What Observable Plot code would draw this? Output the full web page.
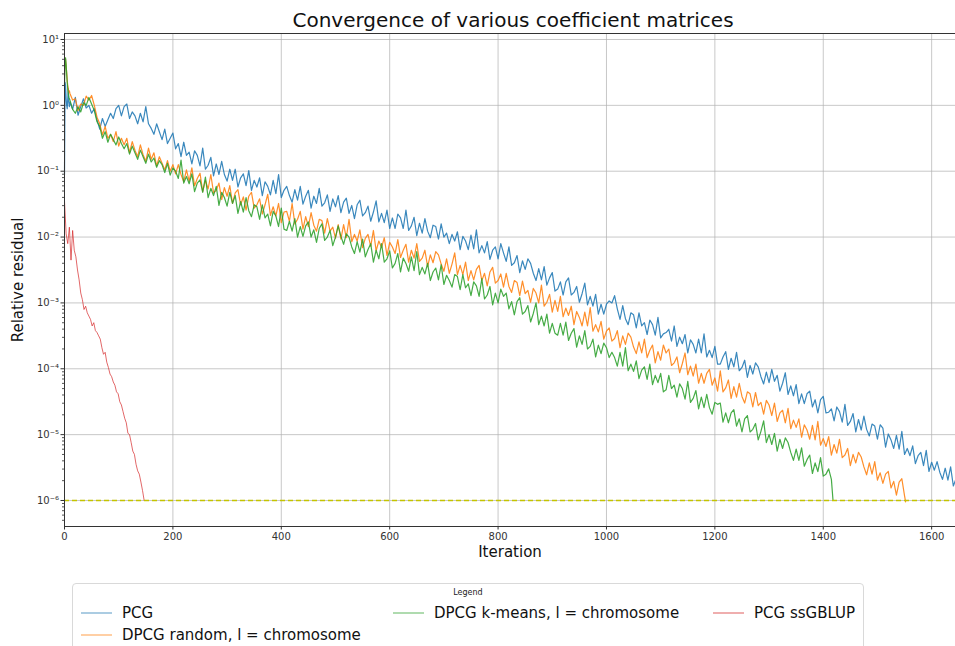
<!DOCTYPE html>
<html>
<head>
<meta charset="utf-8">
<script src="https://cdn.jsdelivr.net/npm/d3@7"></script>
<script src="https://cdn.jsdelivr.net/npm/@observablehq/plot@0.6"></script>
<style>
  body { margin: 0; background: #fff; font-family: "DejaVu Sans", sans-serif; }
  #wrap { position: relative; width: 955px; height: 646px; overflow: hidden; background: #fff; }
  #chart { position: absolute; left: 0; top: 0; }
  #title { position: absolute; top: 8px; left: 513px; transform: translateX(-50%); white-space: nowrap;
           font-size: 20px; line-height: 24px; color: #111; }
  #legend { position: absolute; left: 72px; top: 583px; width: 790px; height: 100px;
            border: 1px solid #d9d9d9; border-radius: 4px; background: #fff; }
  #legend .ttl { position: absolute; top: 4px; left: 0; width: 100%; text-align: center; font-size: 8px; color: #222; }
  #legend .item { position: absolute; height: 18px; display: flex; align-items: center; white-space: nowrap;
                  font-size: 15px; color: #111; }
  #legend svg { margin-right: 10px; }
</style>
</head>
<body>
<div id="wrap">
  <div id="chart"></div>
  <div id="title">Convergence of various coefficient matrices</div>
  <div id="legend"><div class="ttl">Legend</div></div>
</div>
<script>
// Relative residual per iteration, stored as log10(residual).
// Iterations 0-9 one by one, then one value every 5 iterations from iteration 10.
const pcgHead = [-1.05, 0.35, 0.3, 0.1, 0.0, -0.05, 0.1, 0.25, 0.05, -0.02];
const pcgStep5 = [
  0.05,-0.06,0.12,-0.15,-0.02,0.1,-0.04,0.0,-0.12,-0.05,-0.22,-0.36,-0.2,-0.32,-0.22,-0.12,-0.2,-0.05,0.0,-0.16,
  -0.02,0.02,-0.2,-0.1,-0.16,-0.28,-0.12,-0.25,-0.02,-0.28,-0.35,-0.44,-0.28,-0.4,-0.52,-0.36,-0.58,-0.5,-0.42,-0.66,
  -0.58,-0.78,-0.56,-0.76,-0.71,-0.89,-0.69,-0.76,-0.92,-0.65,-0.97,-0.91,-0.79,-1.07,-0.89,-1.05,-0.85,-1.05,-1.15,-0.97,
  -1.14,-0.97,-1.24,-1.10,-1.04,-1.22,-0.99,-1.29,-1.14,-1.24,-1.10,-1.37,-1.16,-1.23,-1.36,-1.14,-1.34,-1.05,-1.40,-1.29,
  -1.23,-1.37,-1.47,-1.28,-1.44,-1.23,-1.50,-1.38,-1.29,-1.56,-1.38,-1.49,-1.26,-1.53,-1.48,-1.36,-1.61,-1.42,-1.54,-1.37,
  -1.63,-1.47,-1.41,-1.64,-1.52,-1.72,-1.51,-1.44,-1.68,-1.63,-1.53,-1.76,-1.62,-1.45,-1.77,-1.64,-1.78,-1.59,-1.87,-1.71,
  -1.87,-1.65,-1.71,-1.87,-1.59,-1.90,-1.83,-1.70,-1.98,-1.79,-1.94,-1.72,-1.91,-2.01,-1.82,-1.84,-2.03,-1.80,-2.00,-1.94,
  -2.10,-1.96,-2.06,-1.92,-2.19,-1.99,-2.06,-2.19,-1.97,-2.18,-1.89,-2.24,-2.13,-2.24,-2.07,-2.34,-2.20,-2.15,-2.33,-2.10,
  -2.24,-2.37,-2.15,-2.43,-2.39,-2.28,-2.54,-2.36,-2.49,-2.33,-2.40,-2.55,-2.66,-2.48,-2.65,-2.45,-2.73,-2.62,-2.54,-2.82,
  -2.79,-2.68,-2.88,-2.68,-2.62,-2.88,-2.84,-2.75,-2.99,-2.86,-2.70,-3.03,-2.90,-3.05,-2.87,-3.17,-3.02,-3.17,-3.02,-2.97,
  -3.00,-2.89,-3.09,-3.25,-3.04,-3.24,-3.33,-3.15,-3.18,-3.38,-3.15,-3.35,-3.30,-3.48,-3.26,-3.33,-3.49,-3.22,-3.53,-3.47,
  -3.45,-3.40,-3.58,-3.35,-3.66,-3.52,-3.62,-3.48,-3.76,-3.56,-3.63,-3.76,-3.55,-3.76,-3.47,-3.82,-3.72,-3.83,-3.66,-3.93,
  -3.93,-3.82,-3.74,-4.01,-3.84,-3.97,-3.75,-4.03,-3.98,-3.87,-4.13,-3.95,-4.08,-3.91,-3.97,-4.12,-4.23,-4.05,-4.21,-4.01,
  -4.19,-4.10,-4.34,-4.22,-4.06,-4.39,-4.26,-4.41,-4.24,-4.53,-4.38,-4.53,-4.38,-4.34,-4.58,-4.47,-4.67,-4.47,-4.42,-4.67,
  -4.66,-4.61,-4.79,-4.58,-4.65,-4.81,-4.54,-4.86,-4.80,-4.68,-4.96,-4.77,-4.93,-4.72,-4.92,-5.02,-4.84,-4.87,-5.07,-4.85,
  -4.90,-5.19,-4.99,-5.08,-5.21,-5.01,-5.22,-4.95,-5.30,-5.21,-5.32,-5.17,-5.44,-5.32,-5.27,-5.47,-5.24,-5.56,-5.42,-5.54,
  -5.41,-5.57,-5.68,-5.51,-5.69,-5.49,-5.78,-5.67,-5.60
];
const pcgTail = [];

const randomHead = [0.45, 0.72, 0.7, 0.6, 0.5, 0.38, 0.3, 0.25, 0.2, 0.22];
const randomStep5 = [
  0.18,0.08,0.1,-0.08,0.02,0.0,0.14,0.08,0.15,0.0,-0.18,-0.28,-0.45,-0.32,-0.5,-0.44,-0.55,-0.4,-0.62,-0.5,
  -0.6,-0.5,-0.72,-0.55,-0.68,-0.78,-0.6,-0.75,-0.85,-0.65,-0.82,-0.72,-0.92,-0.78,-0.88,-0.98,-0.84,-1.0,-0.9,-1.04,
  -0.90,-1.05,-1.16,-0.98,-1.15,-0.95,-1.22,-1.11,-1.03,-1.31,-1.14,-1.27,-1.05,-1.33,-1.29,-1.18,-1.43,-1.25,-1.38,-1.22,
  -1.49,-1.33,-1.28,-1.51,-1.39,-1.59,-1.38,-1.32,-1.56,-1.51,-1.42,-1.65,-1.51,-1.35,-1.67,-1.54,-1.68,-1.49,-1.78,-1.62,
  -1.61,-1.76,-1.49,-1.80,-1.73,-1.61,-1.88,-1.69,-1.84,-1.63,-1.82,-1.91,-1.73,-1.75,-1.94,-1.72,-1.91,-1.85,-2.02,-1.81,
  -2.03,-1.81,-2.01,-1.73,-2.07,-1.96,-2.06,-1.89,-2.16,-2.02,-1.96,-2.14,-1.90,-2.21,-2.06,-2.16,-2.01,-2.28,-2.08,-2.15,
  -2.25,-2.04,-2.31,-2.20,-2.11,-2.38,-2.20,-2.32,-2.10,-2.37,-2.32,-2.20,-2.45,-2.27,-2.39,-2.22,-2.27,-2.41,-2.52,-2.33,
  -2.55,-2.41,-2.24,-2.57,-2.43,-2.57,-2.38,-2.66,-2.51,-2.65,-2.49,-2.43,-2.66,-2.55,-2.74,-2.53,-2.46,-2.70,-2.66,-2.56,
  -2.76,-2.55,-2.75,-2.84,-2.66,-2.69,-2.89,-2.67,-2.86,-2.81,-2.99,-2.78,-2.85,-3.00,-2.73,-3.05,-2.99,-2.87,-3.14,-2.96,
  -3.13,-2.90,-3.21,-3.08,-3.19,-3.05,-3.33,-3.13,-3.22,-3.35,-3.14,-3.35,-3.07,-3.43,-3.33,-3.44,-3.28,-3.55,-3.43,-3.38,
  -3.58,-3.54,-3.42,-3.68,-3.50,-3.63,-3.46,-3.52,-3.67,-3.77,-3.59,-3.76,-3.55,-3.83,-3.72,-3.64,-3.91,-3.74,-3.87,-3.64,
  -3.76,-3.70,-3.95,-3.91,-3.82,-4.06,-3.92,-3.76,-4.09,-3.96,-4.11,-3.93,-4.22,-4.07,-4.22,-4.07,-4.01,-4.25,-4.14,-4.34,
  -4.03,-4.35,-4.29,-4.17,-4.45,-4.27,-4.43,-4.22,-4.42,-4.52,-4.35,-4.38,-4.58,-4.36,-4.56,-4.51,-4.69,-4.48,-4.55,-4.71,
  -4.52,-4.80,-4.67,-4.63,-4.82,-4.60,-4.91,-4.78,-4.89,-4.76,-5.04,-4.85,-4.93,-5.07,-4.86,-5.08,-4.80,-5.16,-5.06,-5.18,
  -5.03,-5.31,-5.15,-5.28,-5.07,-5.35,-5.31,-5.21,-5.47,-5.30,-5.43,-5.27,-5.34,-5.49,-5.61,-5.43,-5.60,-5.41,-5.69,-5.58,
  -5.74,-5.60,-5.56,-5.81,-5.71,-5.92,-5.72,-5.67,-5.93
];
const randomTail = [[1552, -6.02]];

const kmeansHead = [0.3, 0.62, 0.72, 0.62, 0.48, 0.35, 0.25, 0.18, 0.12, 0.1];
const kmeansStep5 = [
  0.08,-0.06,-0.12,-0.02,-0.1,0.04,0.0,0.12,0.02,-0.08,-0.25,-0.32,-0.5,-0.4,-0.56,-0.44,-0.52,-0.6,-0.48,-0.58,
  -0.66,-0.58,-0.74,-0.62,-0.72,-0.82,-0.68,-0.78,-0.88,-0.74,-0.86,-0.8,-0.94,-0.84,-0.9,-1.02,-0.88,-1.06,-0.95,-1.0,
  -1.11,-0.83,-1.18,-1.08,-1.19,-1.04,-1.31,-1.18,-1.13,-1.32,-1.09,-1.40,-1.26,-1.37,-1.23,-1.52,-1.32,-1.40,-1.53,-1.32,
  -1.49,-1.37,-1.64,-1.46,-1.62,-1.40,-1.60,-1.69,-1.51,-1.54,-1.73,-1.51,-1.71,-1.65,-1.83,-1.61,-1.68,-1.84,-1.56,-1.88,
  -1.90,-1.76,-1.91,-1.72,-2.00,-1.84,-1.99,-1.83,-1.77,-2.00,-1.89,-2.08,-1.87,-1.80,-2.05,-2.00,-1.90,-2.13,-2.00,-1.83,
  -1.99,-2.11,-1.95,-2.00,-2.15,-2.25,-2.07,-2.23,-2.03,-2.30,-2.19,-2.10,-2.38,-2.20,-2.33,-2.10,-2.38,-2.33,-2.21,-2.47,
  -2.40,-2.25,-2.53,-2.32,-2.40,-2.52,-2.30,-2.51,-2.22,-2.57,-2.46,-2.56,-2.40,-2.66,-2.53,-2.47,-2.65,-2.42,-2.72,-2.58,
  -2.66,-2.76,-2.57,-2.60,-2.80,-2.57,-2.77,-2.71,-2.89,-2.68,-2.74,-2.90,-2.63,-2.94,-2.88,-2.75,-3.03,-2.85,-3.00,-2.79,
  -2.90,-2.85,-3.09,-2.98,-3.18,-2.98,-2.92,-3.17,-3.13,-3.04,-3.29,-3.16,-3.00,-3.33,-3.20,-3.35,-3.17,-3.46,-3.31,-3.46,
  -3.49,-3.31,-3.49,-3.29,-3.57,-3.46,-3.39,-3.67,-3.50,-3.63,-3.42,-3.70,-3.66,-3.55,-3.82,-3.64,-3.77,-3.61,-3.68,-3.83,
  -3.75,-3.83,-3.96,-3.75,-3.96,-3.68,-4.03,-3.93,-4.04,-3.88,-4.15,-4.02,-3.97,-4.16,-3.93,-4.24,-4.10,-4.21,-4.07,-4.35,
  -4.32,-4.10,-4.30,-4.25,-4.43,-4.23,-4.30,-4.46,-4.19,-4.51,-4.45,-4.33,-4.61,-4.43,-4.59,-4.39,-4.59,-4.69,-4.51,-4.54,
  -4.52,-4.81,-4.67,-4.82,-4.67,-4.62,-4.87,-4.76,-4.96,-4.76,-4.71,-4.96,-4.92,-4.83,-5.08,-4.95,-4.79,-5.12,-5.00,-5.15,
  -4.98,-5.25,-5.07,-5.21,-5.05,-5.12,-5.27,-5.39,-5.22,-5.39,-5.20,-5.48,-5.38,-5.31,-5.59,-5.43,-5.56,-5.35,-5.63,-5.60,
  -5.52,-5.68
];
const kmeansTail = [[1418, -6.0]];

// ssGBLUP converges fast: one value every 3 iterations from iteration 0.
const ssgblupStep3 = [
  -1.45,-1.95,-2.1,-1.85,-2.35,-1.9,-2.2,-2.3,-2.5,-2.65,
  -2.85,-2.95,-3.1,-3.05,-3.15,-3.2,-3.25,-3.35,-3.3,-3.42,
  -3.45,-3.5,-3.55,-3.68,-3.78,-3.75,-3.9,-3.98,-4.08,-4.12,
  -4.2,-4.25,-4.35,-4.38,-4.5,-4.55,-4.65,-4.75,-4.82,-4.98,
  -5.0,-5.12,-5.25,-5.3,-5.45,-5.55,-5.6,-5.72,-5.85,-6.0
];

const seriesNames = ["PCG", "DPCG random, l = chromosome", "DPCG k-means, l = chromosome", "PCG ssGBLUP"];
const seriesColors = ["#1f77b4", "#ff7f0e", "#2ca02c", "#d62728"];
const tolerance = 1e-6;
const xTicks = [0, 200, 400, 600, 800, 1000, 1200, 1400, 1600];
const yDecades = [1e1, 1e0, 1e-1, 1e-2, 1e-3, 1e-4, 1e-5, 1e-6];

function rows(head, body, step, start, tail) {
  const out = [];
  head.forEach((v, i) => out.push({iter: i, res: 10 ** v}));
  body.forEach((v, i) => out.push({iter: start + i * step, res: 10 ** v}));
  tail.forEach(([it, v]) => out.push({iter: it, res: 10 ** v}));
  return out;
}

const series = [
  rows(pcgHead, pcgStep5, 5, 10, pcgTail),
  rows(randomHead, randomStep5, 5, 10, randomTail),
  rows(kmeansHead, kmeansStep5, 5, 10, kmeansTail),
  rows([], ssgblupStep3, 3, 0, [])
];

const sup = {"-": "\u207B", "0": "\u2070", "1": "\u00B9", "2": "\u00B2", "3": "\u00B3",
             "4": "\u2074", "5": "\u2075", "6": "\u2076", "7": "\u2077", "8": "\u2078", "9": "\u2079"};
const powLabel = d => "10" + String(Math.round(Math.log10(d))).split("").map(c => sup[c]).join("");

const yMinor = [];
for (let e = -7; e <= 1; e++) for (let m = 2; m <= 9; m++) yMinor.push(m * 10 ** e);

const yDomain = [10 ** -6.395, 10 ** 1.091];
const yMinorIn = yMinor.filter(v => v > yDomain[0] && v < yDomain[1]);

const chart = Plot.plot({
  width: 955,
  height: 570,
  marginTop: 33,
  marginBottom: 44,
  marginLeft: 64,
  marginRight: 0,
  style: {fontFamily: "DejaVu Sans, sans-serif", fontSize: "10px", color: "#333", background: "#fff", overflow: "hidden"},
  x: {domain: [0, 1644]},
  y: {type: "log", domain: yDomain},
  marks: [
    Plot.gridX({ticks: xTicks, stroke: "#b0b0b0", strokeOpacity: 0.7, strokeWidth: 1}),
    Plot.gridY({ticks: yDecades, stroke: "#b0b0b0", strokeOpacity: 0.7, strokeWidth: 1}),
    ...series.map((d, i) => Plot.line(d, {
      x: "iter", y: "res", stroke: seriesColors[i],
      strokeWidth: i === 3 ? 0.8 : 1.2, strokeOpacity: 0.88
    })),
    Plot.ruleY([tolerance], {stroke: "#c4c400", strokeWidth: 1.4, strokeDasharray: "5,3"}),
    Plot.axisX({ticks: xTicks, tickSize: 3.5, tickPadding: 3, tickFormat: d => String(d), label: null, stroke: "#333"}),
    Plot.axisY({ticks: yDecades, tickSize: 3.5, tickPadding: 2, tickFormat: powLabel, label: null, stroke: "#333"}),
    Plot.axisY({ticks: yMinorIn, tickSize: 2, tickFormat: () => "", label: null, stroke: "#555"}),
    Plot.ruleX([0], {stroke: "#333", strokeWidth: 1}),
    Plot.ruleY(yDomain, {stroke: "#333", strokeWidth: 1}),
    Plot.text(["Iteration"], {frameAnchor: "bottom", dy: 30, fontSize: 15, fill: "#111"}),
    Plot.text(["Relative residual"], {frameAnchor: "left", textAnchor: "middle", rotate: -90, dx: -46, fontSize: 15, fill: "#111"})
  ]
});
document.getElementById("chart").appendChild(chart);

// Legend: three columns, filled column by column.
const legend = document.getElementById("legend");
const slots = [[8, 20], [8, 42], [320, 20], [640, 20]];
const svgNS = "http://www.w3.org/2000/svg";
seriesNames.forEach((name, i) => {
  const item = document.createElement("div");
  item.className = "item";
  item.style.left = slots[i][0] + "px";
  item.style.top = slots[i][1] + "px";
  const sw = document.createElementNS(svgNS, "svg");
  sw.setAttribute("width", "31");
  sw.setAttribute("height", "6");
  const ln = document.createElementNS(svgNS, "line");
  ln.setAttribute("x1", "0"); ln.setAttribute("x2", "31");
  ln.setAttribute("y1", "3"); ln.setAttribute("y2", "3");
  ln.setAttribute("stroke", seriesColors[i]);
  ln.setAttribute("stroke-width", "1.5");
  ln.setAttribute("stroke-opacity", "0.5");
  sw.appendChild(ln);
  item.appendChild(sw);
  item.appendChild(document.createTextNode(name));
  legend.appendChild(item);
});
</script>
</body>
</html>
